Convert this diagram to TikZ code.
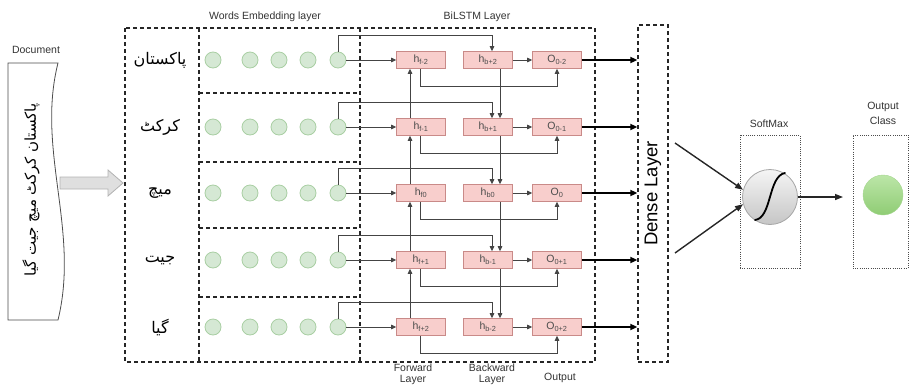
\documentclass[tikz,border=0pt]{standalone}
\usepackage{fontspec}
\setmainfont{Liberation Sans}
\newfontfamily\urdu[Script=Arabic]{DejaVu Sans}
\TeXXeTstate=1
\usetikzlibrary{arrows.meta,calc}
\definecolor{boxfill}{HTML}{F8CECC}
\definecolor{boxdraw}{HTML}{C98A88}
\definecolor{embfill}{HTML}{D5E8D4}
\definecolor{embdraw}{HTML}{A9CFA3}
\definecolor{lineg}{HTML}{444444}
\definecolor{gtop}{HTML}{BCE6A8}
\definecolor{gbot}{HTML}{8FCC74}
\begin{document}
\begin{tikzpicture}[x=1pt,y=-1pt,
  dashbox/.style={draw=black!85, line width=1.3pt, dash pattern=on 4pt off 3pt},
  dotbox/.style={draw=black!70, line width=0.7pt, dash pattern=on 1pt off 1.2pt, inner sep=0pt},
  emb/.style={circle, fill=embfill, draw=embdraw, line width=0.8pt, minimum size=16pt, inner sep=0pt},
  cell/.style={rectangle, fill=boxfill, draw=boxdraw, line width=0.6pt, minimum width=49pt, minimum height=17pt, inner sep=0pt, font=\fontsize{10.5}{11}\selectfont, text=black!70},
  conn/.style={draw=lineg, line width=0.9pt, -{Triangle[length=5pt,width=4.5pt]}},
  outarrow/.style={draw=black, line width=2pt, -{Triangle[length=7pt,width=6pt]}},
  bigarrow/.style={draw=black!85, line width=1.4pt, -{Triangle[length=8pt,width=6pt]}},
  lbl/.style={font=\fontsize{10.5}{11.5}\selectfont, text=black!80},
  uw/.style={font=\urdu\fontsize{16}{16}\selectfont}
]
\useasboundingbox (0,0) rectangle (910,386);

% document
\node[lbl] (doclabel) at (36,50) {Document};
\draw[draw=black!70, line width=0.8pt, fill=white] (8,63) -- (58,63) .. controls (36,150) and (80,230) .. (58,320) -- (8,320) -- cycle;
\node[rotate=90, font=\urdu\fontsize{15}{15}\selectfont] (doctext) at (31,190) {\beginR پاکستان کرکٹ میچ جیت گیا\endR};
\draw[fill=gray!25, draw=gray!60, line width=0.8pt] (60,177) -- (108,177) -- (108,170) -- (123,183) -- (108,196) -- (108,189) -- (60,189) -- cycle;

% boxes (each line drawn once)
\draw[dashbox] (125,28) rectangle (595,362);
\draw[dashbox] (199,28) -- (199,362);
\draw[dashbox] (360,28) -- (360,362);
\foreach \yy in {93,162,228,297}
  \draw[dashbox] (199,\yy) -- (360,\yy);
\node[lbl] (emblabel) at (265,17) {Words Embedding layer};
\node[lbl] (bilabel) at (477,17) {BiLSTM Layer};

% urdu words
\node[uw] (w1) at (160,60) {\beginR پاکستان\endR};
\node[uw] (w2) at (160,127) {\beginR کرکٹ\endR};
\node[uw] (w3) at (160,193) {\beginR میچ\endR};
\node[uw] (w4) at (160,260) {\beginR جیت\endR};
\node[uw] (w5) at (160,327) {\beginR گیا\endR};

% embedding circles
\foreach \i/\y in {1/60,2/127,3/193,4/260,5/327}{
  \foreach \j/\x in {1/213,2/250,3/279,4/308,5/338}
    \node[emb] (c\i\j) at (\x,\y) {};
}

% cells
\node[cell] (hf1) at (421,60) {h\textsubscript{f-2}};
\node[cell] (hb1) at (488,60) {h\textsubscript{b+2}};
\node[cell] (o1) at (557,60) {O\textsubscript{0-2}};
\node[cell] (hf2) at (421,127) {h\textsubscript{f-1}};
\node[cell] (hb2) at (488,127) {h\textsubscript{b+1}};
\node[cell] (o2) at (557,127) {O\textsubscript{0-1}};
\node[cell] (hf3) at (421,193) {h\textsubscript{f0}};
\node[cell] (hb3) at (488,193) {h\textsubscript{b0}};
\node[cell] (o3) at (557,193) {O\textsubscript{0}};
\node[cell] (hf4) at (421,260) {h\textsubscript{f+1}};
\node[cell] (hb4) at (488,260) {h\textsubscript{b-1}};
\node[cell] (o4) at (557,260) {O\textsubscript{0+1}};
\node[cell] (hf5) at (421,327) {h\textsubscript{f+2}};
\node[cell] (hb5) at (488,327) {h\textsubscript{b-2}};
\node[cell] (o5) at (557,327) {O\textsubscript{0+2}};

% dense layer
\node[dashbox, minimum width=30pt, minimum height=337pt, inner sep=0pt] (dense) at (653,193.5) {};
\node[rotate=90, font=\fontsize{18.5}{18.5}\selectfont] (densetext) at (dense.center) {Dense Layer};

% row connectors
\foreach \i in {1,...,5}{
  \draw[conn] (c\i5) -- (hf\i);
  \draw[conn] (c\i5.north) -- ++(0,-16) -| ([xshift=4pt]hb\i.north);
  \draw[conn] ([xshift=-1pt]hf\i.south) -- ++(0,17.5) -| (o\i.south);
  \draw[conn] (hb\i) -- (o\i);
  \draw[outarrow] (o\i.east) -- (o\i.east -| dense.west);
}
\foreach \i/\j in {1/2,2/3,3/4,4/5}{
  \draw[conn] ([xshift=12pt]hb\i.south) -- ([xshift=12pt]hb\j.north);
  \draw[conn] ([xshift=-11pt]hf\j.north) -- ([xshift=-11pt]hf\i.south);
}

% bottom labels
\node[lbl, align=center, font=\fontsize{10.5}{10.5}\selectfont] (fwd) at (413,374.5) {Forward\\Layer};
\node[lbl, align=center, font=\fontsize{10.5}{10.5}\selectfont] (bwd) at (492,374.5) {Backward\\Layer};
\node[lbl] (outl) at (560,378) {Output};

% softmax
\node[dotbox, minimum width=60pt, minimum height=133pt] (smbox) at (770,201.5) {};
\node[lbl] (smlabel) at (769,124) {SoftMax};
\node[circle, minimum size=55pt, inner sep=0pt, draw=gray!70, line width=0.8pt, top color=gray!8, bottom color=gray!45] (sm) at (770,197) {};
\draw[line width=1.8pt, line cap=round] (755,220) .. controls (772,218) and (768,176) .. (785,173);

% output class
\node[dotbox, minimum width=55pt, minimum height=133pt] (ocbox) at (880.5,201.5) {};
\node[lbl, align=center, font=\fontsize{10.5}{15}\selectfont] (oclabel) at (883,113) {Output\\Class};
\node[circle, minimum size=40pt, inner sep=0pt, top color=gtop, bottom color=gbot, draw=gbot!80, line width=0.4pt] (oc) at (883,195) {};

% arrows to / from softmax
\coordinate (d1) at (675,143);
\coordinate (d2) at (675,253);
\coordinate (oe) at (843,197);
\draw[bigarrow] (d1) -- (sm.165);
\draw[bigarrow] (d2) -- (sm.195);
\draw[bigarrow] (sm) -- (oe);
\end{tikzpicture}
\end{document}
